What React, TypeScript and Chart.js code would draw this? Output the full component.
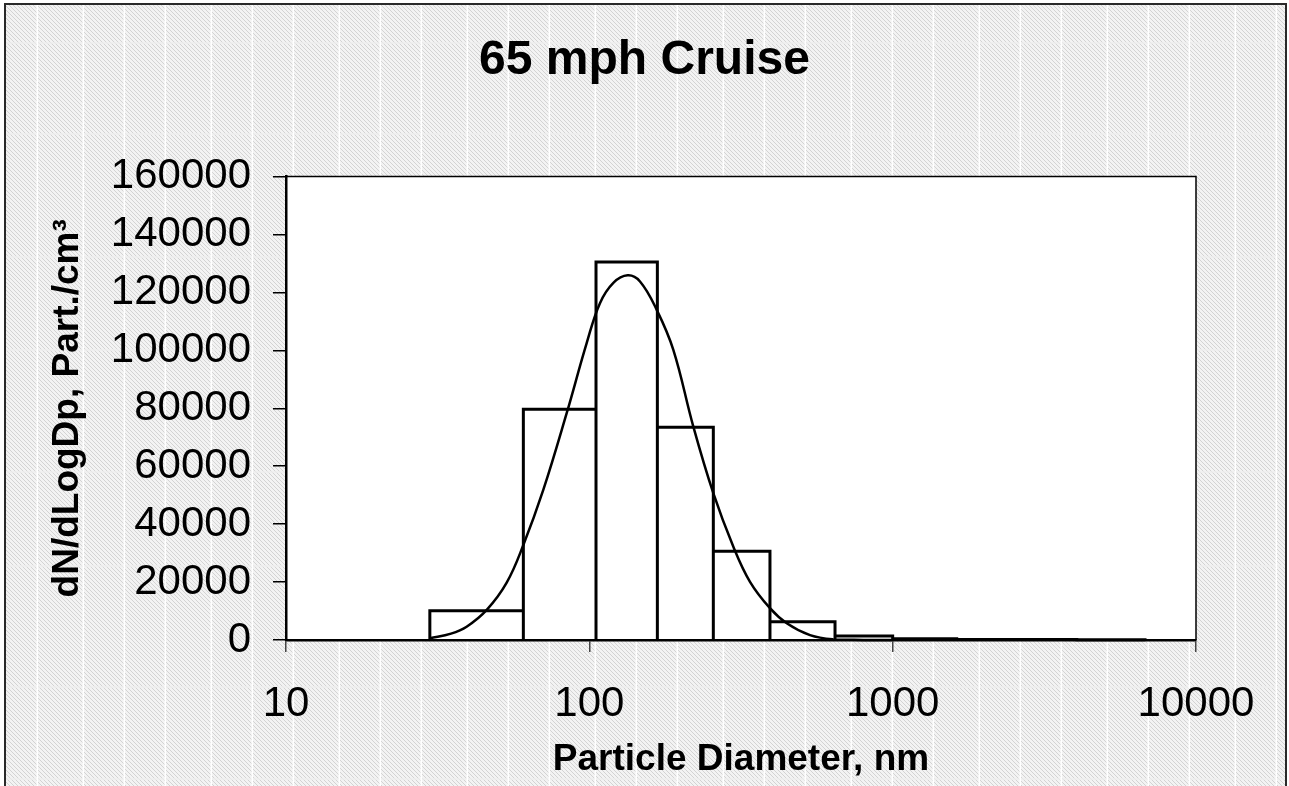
import React, { useEffect, useRef } from "react";
import { Chart, registerables } from "chart.js";

Chart.register(...registerables);

// ---- Data ----
const binEdges = [29.8, 60.6, 105.2, 167.6, 256.3, 394, 645.6, 1000, 1626, 2489, 4046, 6792];
const binValues = [10100, 79700, 130500, 73500, 30600, 6300, 1400, 400, 200, 150, 100];

const curveDiameters = [29.8, 35, 39.4, 45.9, 53.4, 60.6, 70.5, 84.2, 98.0, 108.4, 120, 133.8, 146.9, 166.8, 189.2, 220.2, 256.3, 298.4, 338.6, 394, 447.5, 534, 637.5, 800, 1000];
const curveValues = [600, 2200, 4600, 10400, 19800, 32800, 51800, 78300, 102500, 116300, 123300, 125900, 123800, 114000, 100200, 73700, 50700, 32200, 20100, 11000, 5800, 1700, 200, 30, 0];

const xTickValues = [10, 100, 1000, 10000];
const yMin = 0;
const yMax = 160000;
const yStep = 20000;

const titleText = "65 mph Cruise";
const xTitle = "Particle Diameter, nm";
const yTitle = "dN/dLogDp, Part./cm\u00B3";

const FONT = "'Liberation Sans', Arial, Helvetica, sans-serif";

const hLines = [43, 134, 257, 350, 472, 566, 687, 779];

const bgPlugin = {
  id: "bgPlugin",
  beforeDraw(chart: any) {
    const { ctx, width, height, chartArea } = chart;
    ctx.save();
    ctx.fillStyle = "#ffffff";
    ctx.fillRect(0, 0, width, height);
    // hatch pattern
    const tile = document.createElement("canvas");
    tile.width = 4;
    tile.height = 4;
    const tctx = tile.getContext("2d")!;
    tctx.fillStyle = "#f3f3f3";
    tctx.fillRect(0, 0, 4, 4);
    tctx.strokeStyle = "#d3d3d3";
    tctx.lineWidth = 1;
    tctx.beginPath();
    tctx.moveTo(-1, -1);
    tctx.lineTo(5, 5);
    tctx.stroke();
    const pat = ctx.createPattern(tile, "repeat");
    ctx.fillStyle = pat;
    ctx.fillRect(5, 4, 1281, height - 4);
    // faint horizontal lines
    ctx.strokeStyle = "rgba(238,238,238,0.9)";
    ctx.lineWidth = 1.5;
    for (const y of hLines) {
      ctx.beginPath();
      ctx.moveTo(5, y);
      ctx.lineTo(1286, y);
      ctx.stroke();
    }
    // white vertical lines
    ctx.strokeStyle = "#ffffff";
    ctx.lineWidth = 1.5;
    const gaps = [46, 41, 41];
    let x = 37.3;
    let k = 0;
    while (x < 1286) {
      ctx.beginPath();
      ctx.moveTo(x, 4);
      ctx.lineTo(x, height);
      ctx.stroke();
      x += gaps[k % 3];
      k++;
    }
    // outer border
    ctx.strokeStyle = "#2a2a2a";
    ctx.lineWidth = 2;
    ctx.beginPath();
    ctx.moveTo(5, height + 2);
    ctx.lineTo(5, 4);
    ctx.lineTo(1286, 4);
    ctx.lineTo(1286, height + 2);
    ctx.stroke();
    // plot area
    ctx.fillStyle = "#ffffff";
    ctx.fillRect(chartArea.left, chartArea.top, chartArea.right - chartArea.left, chartArea.bottom - chartArea.top);
    ctx.restore();
  },
  afterDraw(chart: any) {
    const { ctx, chartArea } = chart;
    ctx.save();
    ctx.strokeStyle = "#000";
    ctx.lineWidth = 1.5;
    ctx.beginPath();
    ctx.moveTo(chartArea.left, chartArea.top);
    ctx.lineTo(chartArea.right, chartArea.top);
    ctx.lineTo(chartArea.right, chartArea.bottom);
    ctx.stroke();
    ctx.restore();
  },
};

export default function App() {
  const ref = useRef<HTMLCanvasElement | null>(null);

  useEffect(() => {
    if (!ref.current) return;
    const barPoints: { x: number; y: number }[] = [];
    for (let i = 0; i < binValues.length; i++) {
      barPoints.push({ x: binEdges[i], y: 0 });
      barPoints.push({ x: binEdges[i], y: binValues[i] });
      barPoints.push({ x: binEdges[i + 1], y: binValues[i] });
      barPoints.push({ x: binEdges[i + 1], y: 0 });
    }
    const curvePoints = curveDiameters.map((d, i) => ({ x: d, y: curveValues[i] }));

    const chart = new Chart(ref.current, {
      type: "line",
      data: {
        datasets: [
          {
            label: "fit",
            data: curvePoints,
            borderColor: "#000",
            borderWidth: 2.5,
            pointRadius: 0,
            fill: false,
            tension: 0.4,
            clip: false as any,
          },
          {
            label: "bins",
            data: barPoints,
            borderColor: "#000",
            borderWidth: 3,
            pointRadius: 0,
            tension: 0,
            fill: false,
            clip: false as any,
          },
        ],
      },
      options: {
        responsive: false,
        animation: false,
        devicePixelRatio: 1,
        layout: { padding: { left: 0, right: 0, top: 0, bottom: 0 } },
        plugins: {
          legend: { display: false },
          tooltip: { enabled: false },
          title: {
            display: true,
            text: titleText,
            color: "#000",
            font: { family: FONT, size: 48, weight: "bold" },
            padding: { top: 32, bottom: 87 },
          },
        },
        scales: {
          x: {
            type: "logarithmic",
            min: 10,
            max: 10000,
            afterBuildTicks: (scale: any) => {
              scale.ticks = xTickValues.map((v) => ({ value: v }));
            },
            afterFit: (scale: any) => {
              scale.height = 146;
            },
            ticks: {
              color: "#000",
              font: { family: FONT, size: 42 },
              padding: 27,
              maxRotation: 0,
              autoSkip: false,
              callback: (v: any) => String(v),
            },
            grid: {
              display: true,
              drawOnChartArea: false,
              drawTicks: true,
              tickLength: 12,
              color: "#444",
              lineWidth: 1.5,
            },
            border: { display: true, color: "#000", width: 2.5 },
            title: {
              display: true,
              text: xTitle,
              color: "#000",
              font: { family: FONT, size: 37, weight: "bold" },
              padding: { top: 0, bottom: 4 },
            },
          },
          y: {
            type: "linear",
            min: yMin,
            max: yMax,
            afterFit: (scale: any) => {
              scale.width = 286;
            },
            ticks: {
              stepSize: yStep,
              color: "#000",
              font: { family: FONT, size: 42 },
              padding: 22,
              callback: (v: any) => String(v),
            },
            grid: {
              display: true,
              drawOnChartArea: false,
              drawTicks: true,
              tickLength: 13,
              color: "#000",
              lineWidth: 1.5,
            },
            border: { display: true, color: "#000", width: 2.5 },
            title: {
              display: true,
              text: yTitle,
              color: "#000",
              font: { family: FONT, size: 37, weight: "bold" },
              padding: { top: 46, bottom: 0 },
            },
          },
          yRightSpace: {
            type: "linear",
            position: "right",
            min: yMin,
            max: yMax,
            display: true,
            afterFit: (scale: any) => {
              scale.width = 93;
            },
            ticks: { display: false },
            grid: { display: false, drawTicks: false },
            border: { display: false },
          },
        },
      },
      plugins: [bgPlugin],
    });
    return () => chart.destroy();
  }, []);

  return (
    <div style={{ position: "absolute", left: 0, top: 0, width: 1289, height: 786 }}>
      <canvas ref={ref} width={1289} height={786} style={{ width: 1289, height: 786, display: "block" }} />
    </div>
  );
}
